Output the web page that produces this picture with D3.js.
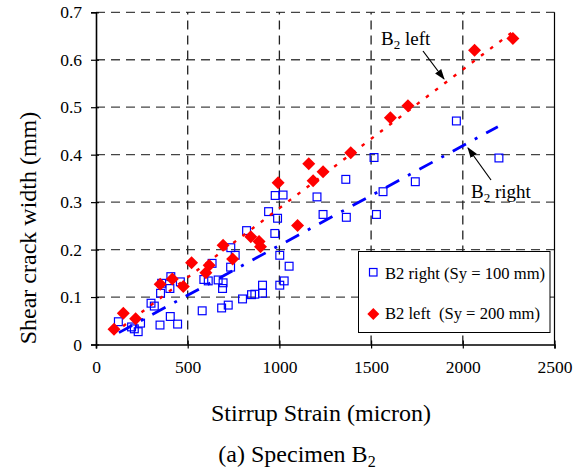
<!DOCTYPE html>
<html>
<head>
<meta charset="UTF-8">
<script src="https://d3js.org/d3.v7.min.js"></script>
<style>
  body { margin: 0; background: #fff; }
  text { font-family: "Liberation Serif", "Times New Roman", serif; fill: #000; }
</style>
</head>
<body>
<div id="chart"></div>
<script>
// B2 right (Sy = 100 mm) - open squares
const rightX = [122, 194, 209, 230, 243, 300, 318, 349, 405, 445, 352, 358, 403, 408, 460,
                579, 685, 721, 799, 848, 866, 908, 908, 1002, 1026, 588, 612, 666, 693, 690,
                633, 734, 735, 759, 821, 941, 990, 977, 1020, 975, 1002, 1053,
                1238, 1365, 1529, 1565, 1205, 1362, 1516, 1965, 2197, 1741];
const rightY = [0.048, 0.037, 0.033, 0.027, 0.045, 0.087, 0.081, 0.041, 0.059, 0.043, 0.108, 0.129, 0.118, 0.143, 0.132,
                0.071, 0.077, 0.083, 0.096, 0.105, 0.106, 0.125, 0.108, 0.125, 0.134, 0.137, 0.134, 0.136, 0.130, 0.118,
                0.171, 0.163, 0.204, 0.188, 0.240, 0.280, 0.266, 0.314, 0.315, 0.234, 0.188, 0.165,
                0.274, 0.268, 0.274, 0.322, 0.311, 0.348, 0.394, 0.471, 0.393, 0.343];

// B2 left (Sy = 200 mm) - filled diamonds
const leftX = [98, 149, 216, 350, 416, 476, 521, 599, 617, 693, 745, 844, 889, 897,
               993, 1099, 1160, 1184, 1238, 1389, 1605, 1701, 2064, 2273];
const leftY = [0.032, 0.066, 0.054, 0.127, 0.138, 0.122, 0.172, 0.151, 0.167, 0.209, 0.180, 0.227, 0.217, 0.206,
               0.341, 0.251, 0.381, 0.345, 0.364, 0.404, 0.478, 0.503, 0.620, 0.645];

// trend lines (end points)
const trendLeftX = [98, 2273];
const trendLeftY = [0.024, 0.659];
const trendRightX = [125, 2191];
const trendRightY = [0.025, 0.459];

const xTicks = [0, 500, 1000, 1500, 2000, 2500];
const yTicks = [0, 0.1, 0.2, 0.3, 0.4, 0.5, 0.6, 0.7];

const width = 582, height = 474;
const mLeft = 96, mRight = 554.5, mTop = 12.3, mBottom = 344.5;

const svg = d3.select("#chart").append("svg")
    .attr("width", width)
    .attr("height", height);

const x = d3.scaleLinear().domain([0, 2500]).range([mLeft, mRight]);
const y = d3.scaleLinear().domain([0, 0.7]).range([mBottom, mTop]);

// gridlines
svg.append("g")
    .selectAll("line")
    .data(yTicks.slice(1))
    .join("line")
    .attr("x1", mLeft).attr("x2", mRight)
    .attr("y1", d => y(d)).attr("y2", d => y(d))
    .attr("stroke", "#444").attr("stroke-width", 1.3)
    .attr("stroke-dasharray", "9,6");

svg.append("g")
    .selectAll("line")
    .data(xTicks.slice(1, -1))
    .join("line")
    .attr("x1", d => x(d)).attr("x2", d => x(d))
    .attr("y1", mBottom).attr("y2", mTop)
    .attr("stroke", "#222").attr("stroke-width", 1.3)
    .attr("stroke-dasharray", "9,6");

// right border
svg.append("line")
    .attr("x1", mRight).attr("x2", mRight)
    .attr("y1", mTop).attr("y2", mBottom)
    .attr("stroke", "#000").attr("stroke-width", 1.2);

// axes
const xAxis = svg.append("g")
    .attr("transform", `translate(0,${mBottom})`)
    .call(d3.axisBottom(x).tickValues(xTicks).tickSize(4).tickPadding(12).tickFormat(d3.format("d")));
xAxis.selectAll(".tick line").attr("y1", -4).attr("stroke-width", 1.2);

const yAxis = svg.append("g")
    .attr("transform", `translate(${mLeft},0)`)
    .call(d3.axisLeft(y).tickValues(yTicks).tickSize(5).tickPadding(9).tickFormat(d => d === 0 ? "0" : d3.format(".1f")(d)));
yAxis.selectAll(".tick line").attr("x1", 3).attr("stroke-width", 1.2);

[xAxis, yAxis].forEach(a => {
    a.attr("font-family", null);
    a.select(".domain").attr("stroke-width", 1.6);
    a.selectAll("text").style("font-size", "17.5px").style("font-family", "Liberation Serif");
});

// markers
svg.append("g")
    .selectAll("rect")
    .data(rightX.map((v, i) => [v, rightY[i]]))
    .join("rect")
    .attr("x", d => x(d[0]) - 3.9)
    .attr("y", d => y(d[1]) - 3.9)
    .attr("width", 7.8).attr("height", 7.8)
    .attr("fill", "none")
    .attr("stroke", "#0000ff").attr("stroke-width", 1.2);

svg.append("g")
    .selectAll("path")
    .data(leftX.map((v, i) => [v, leftY[i]]))
    .join("path")
    .attr("d", "M0,-6.5L6.5,0L0,6.5L-6.5,0Z")
    .attr("transform", d => `translate(${x(d[0])},${y(d[1])})`)
    .attr("fill", "#ff0000");

// trend lines
const line = d3.line().x(d => x(d[0])).y(d => y(d[1]));
svg.append("path")
    .datum(trendLeftX.map((v, i) => [v, trendLeftY[i]]))
    .attr("d", line)
    .attr("fill", "none").attr("stroke", "#ff0000").attr("stroke-width", 2.4)
    .attr("stroke-dasharray", "3.5,8");

svg.append("path")
    .datum(trendRightX.map((v, i) => [v, trendRightY[i]]))
    .attr("d", line)
    .attr("fill", "none").attr("stroke", "#0000ff").attr("stroke-width", 2.8)
    .attr("stroke-dasharray", "15,10,3,10");

// annotations
svg.append("defs").append("marker")
    .attr("id", "arrow")
    .attr("viewBox", "0 0 10 10")
    .attr("refX", 9).attr("refY", 5)
    .attr("markerWidth", 9).attr("markerHeight", 9)
    .attr("orient", "auto")
    .append("path").attr("d", "M0,1.5L10,5L0,8.5Z").attr("fill", "#000");

function subLabel(tx, ty, after) {
    const t = svg.append("text").attr("x", tx).attr("y", ty).style("font-size", "19px");
    t.append("tspan").text("B");
    t.append("tspan").attr("dy", 4).style("font-size", "13px").text("2");
    t.append("tspan").attr("dy", -4).text(after);
    return t;
}

subLabel(381, 45, " left");
svg.append("line")
    .attr("x1", 423).attr("y1", 51).attr("x2", 444).attr("y2", 79)
    .attr("stroke", "#000").attr("stroke-width", 1.2)
    .attr("marker-end", "url(#arrow)");

subLabel(471, 198, " right");
svg.append("line")
    .attr("x1", 491).attr("y1", 180).attr("x2", 468).attr("y2", 148)
    .attr("stroke", "#000").attr("stroke-width", 1.2)
    .attr("marker-end", "url(#arrow)");

// legend
const lg = svg.append("g");
lg.append("rect")
    .attr("x", 358.5).attr("y", 251.5).attr("width", 191.5).attr("height", 81)
    .attr("fill", "#fff").attr("stroke", "#000").attr("stroke-width", 1);
lg.append("rect")
    .attr("x", 369.5).attr("y", 268.5).attr("width", 7.5).attr("height", 7.5)
    .attr("fill", "none").attr("stroke", "#0000ff").attr("stroke-width", 1.2);
lg.append("text").attr("x", 385).attr("y", 279).style("font-size", "16.6px")
    .text("B2 right (Sy = 100 mm)");
lg.append("path")
    .attr("d", "M0,-6L6,0L0,6L-6,0Z")
    .attr("transform", "translate(373.3,314)")
    .attr("fill", "#ff0000");
lg.append("text").attr("x", 385).attr("y", 319).style("font-size", "16.6px")
    .attr("xml:space", "preserve")
    .text("B2 left  (Sy = 200 mm)");

// titles
svg.append("text")
    .attr("transform", "translate(36,228) rotate(-90)")
    .attr("text-anchor", "middle")
    .style("font-size", "24px")
    .text("Shear crack width (mm)");

svg.append("text")
    .attr("x", 321).attr("y", 421)
    .attr("text-anchor", "middle")
    .style("font-size", "24px")
    .text("Stirrup Strain (micron)");

const cap = svg.append("text")
    .attr("x", 297).attr("y", 462)
    .attr("text-anchor", "middle")
    .style("font-size", "24px");
cap.append("tspan").text("(a) Specimen B");
cap.append("tspan").attr("dy", 5).style("font-size", "16px").text("2");
</script>
</body>
</html>
